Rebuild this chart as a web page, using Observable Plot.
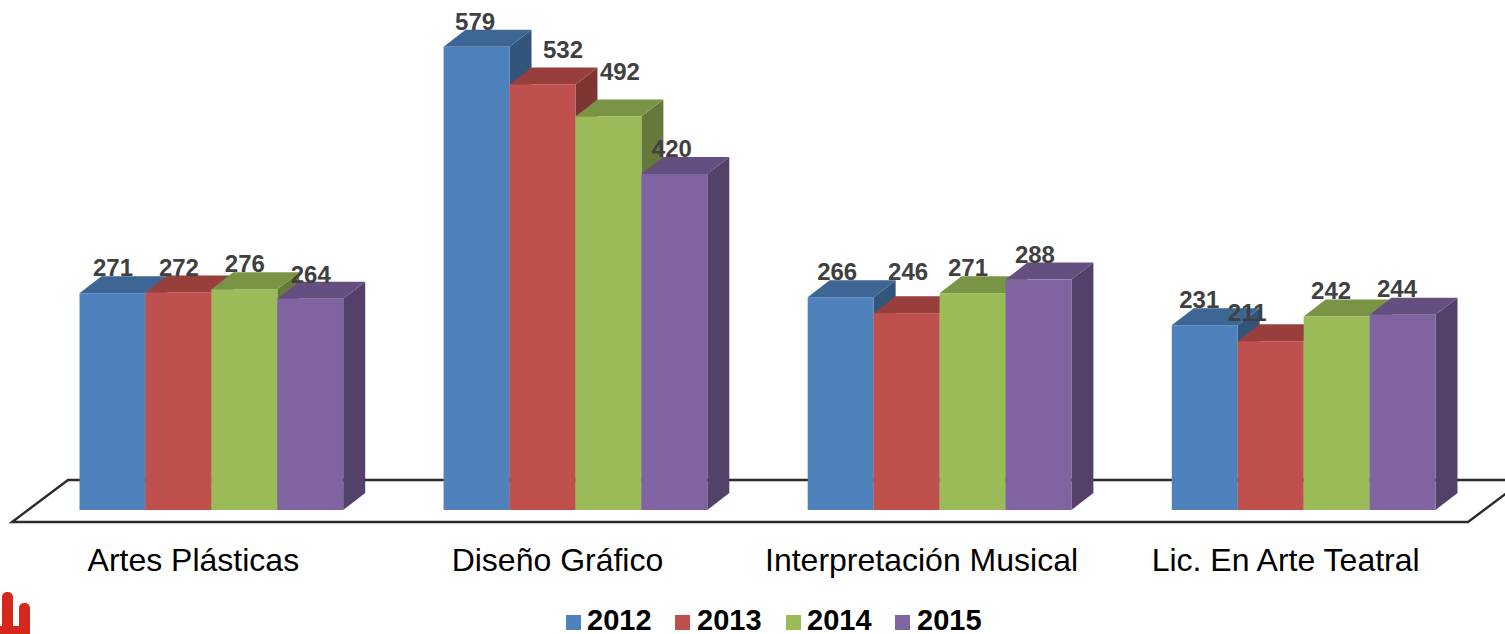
<!DOCTYPE html>
<html><head><meta charset="utf-8">
<script src="https://cdn.jsdelivr.net/npm/d3@7"></script>
<script src="https://cdn.jsdelivr.net/npm/@observablehq/plot@0.6"></script>
<style>
html,body{margin:0;padding:0;background:#fff;overflow:hidden;width:1505px;height:634px;font-family:"Liberation Sans",Arial,sans-serif}
#chart svg{display:block}
#legend{position:absolute;left:0;top:612px;width:1505px;height:22px}
#legend span{position:absolute;top:-2px;font:bold 29px/21px "Liberation Sans",Arial,sans-serif;color:#000}
#legend i{position:absolute;top:3px;width:15px;height:15px}
.logo{position:absolute;background:#d4281c}
</style></head><body>
<div id="chart"></div>
<div id="legend"></div>
<div class="logo" style="left:2px;top:592px;width:11px;height:42px;border-radius:5px 5px 0 0"></div>
<div class="logo" style="left:19px;top:603px;width:11px;height:31px;border-radius:5px 5px 0 0"></div>
<div class="logo" style="left:0;top:626px;width:30px;height:8px"></div>
<script>
const categories = ["Artes Plásticas", "Diseño Gráfico", "Interpretación Musical", "Lic. En Arte Teatral"];
const years = ["2012", "2013", "2014", "2015"];
const values = [
  [271, 272, 276, 264],
  [579, 532, 492, 420],
  [266, 246, 271, 288],
  [231, 211, 242, 244]
];
const colors = ["#4f81bd", "#c0504d", "#9bbb59", "#8064a2"];
// label nudges from each bar's top centre, as placed in the source chart
const labelDx = [[0, 0, 0, 0], [-2, 20, 11, -3], [-4, 1, -5, -4], [-6, -24, -6, -6]];
const labelDy = [[-25, -25, -25, -24], [-25, -35, -45, -25], [-25, -41, -25, -25], [-25, -28, -26, -26]];

const rows = categories.flatMap((category, c) => years.map((year, y) => ({
  category, year, value: values[c][y], dx: labelDx[c][y], dy: labelDy[c][y]
})));

const depthX = 22, depthY = -17, svgNS = "http://www.w3.org/2000/svg";
const shade = (color, k) => { const c = d3.rgb(color); return d3.rgb(c.r * k, c.g * k, c.b * k).formatHex(); };

function extrude(index, scales, values, dimensions, context, next) {
  const g = next(index, scales, values, dimensions, context);
  for (const rect of Array.from(g.querySelectorAll("rect"))) {
    const x = +rect.getAttribute("x"), y = +rect.getAttribute("y");
    const w = +rect.getAttribute("width"), h = +rect.getAttribute("height");
    const fill = rect.getAttribute("fill");
    const side = document.createElementNS(svgNS, "polygon");
    side.setAttribute("points", [[x + w, y], [x + w + depthX, y + depthY], [x + w + depthX, y + h + depthY], [x + w, y + h]].join(" "));
    side.setAttribute("fill", shade(fill, 0.65));
    const top = document.createElementNS(svgNS, "polygon");
    top.setAttribute("points", [[x, y], [x + depthX, y + depthY], [x + w + depthX, y + depthY], [x + w, y]].join(" "));
    top.setAttribute("fill", shade(fill, 0.79));
    rect.parentNode.insertBefore(side, rect);
    rect.parentNode.insertBefore(top, rect);
  }
  return g;
}

const chart = Plot.plot({
  width: 1505, height: 612,
  marginLeft: 79.5, marginRight: 69.5, marginTop: 0, marginBottom: 102,
  style: {background: "transparent", overflow: "hidden"},
  fx: {domain: categories, paddingInner: 0.2757, paddingOuter: 0, round: false, axis: null},
  x: {domain: years, padding: 0, round: false, axis: null},
  y: {domain: [0, 600], range: [510, 30], axis: null},
  color: {domain: years, range: colors},
  marks: [
    Plot.barY(rows, {fx: "category", x: "year", y: "value", fill: "year", render: extrude}),
    ...rows.map(r => Plot.text([r], {
      fx: "category", x: "year", y: "value", text: d => String(d.value),
      dx: r.dx, dy: r.dy, lineAnchor: "middle",
      fontFamily: "Liberation Sans", fontWeight: "bold", fontSize: 24, fill: "#404040"
    })),
    Plot.axisFx({anchor: "bottom", label: null, tickSize: 0, tickPadding: 38, dx: -18.5, lineAnchor: "top",
      fontSize: 32, fontFamily: "Liberation Sans", fill: "#000"})
  ]
});

// floor plane of the 3D chart, placed on the y scale and drawn once behind every bar
const yScale = chart.scale("y");
const front = yScale.apply(-15), back = yScale.apply(37.5);
const floor = document.createElementNS(svgNS, "path");
floor.setAttribute("d", `M1523,${back}L68,${back}L12,${front}L1468,${front}L1523,${front - 55 * 0.75}`);
floor.setAttribute("fill", "none");
floor.setAttribute("stroke", "#2b2b2b");
floor.setAttribute("stroke-width", 2.4);
chart.insertBefore(floor, chart.querySelector("g"));
document.getElementById("chart").append(chart);

const swatchX = [566, 675, 786, 895], textX = [587, 697, 807, 917];
const legend = document.getElementById("legend");
years.forEach((year, i) => {
  const sw = document.createElement("i");
  sw.style.left = swatchX[i] + "px"; sw.style.background = colors[i];
  const t = document.createElement("span");
  t.style.left = textX[i] + "px"; t.textContent = year;
  legend.append(sw, t);
});
</script>
</body></html>
